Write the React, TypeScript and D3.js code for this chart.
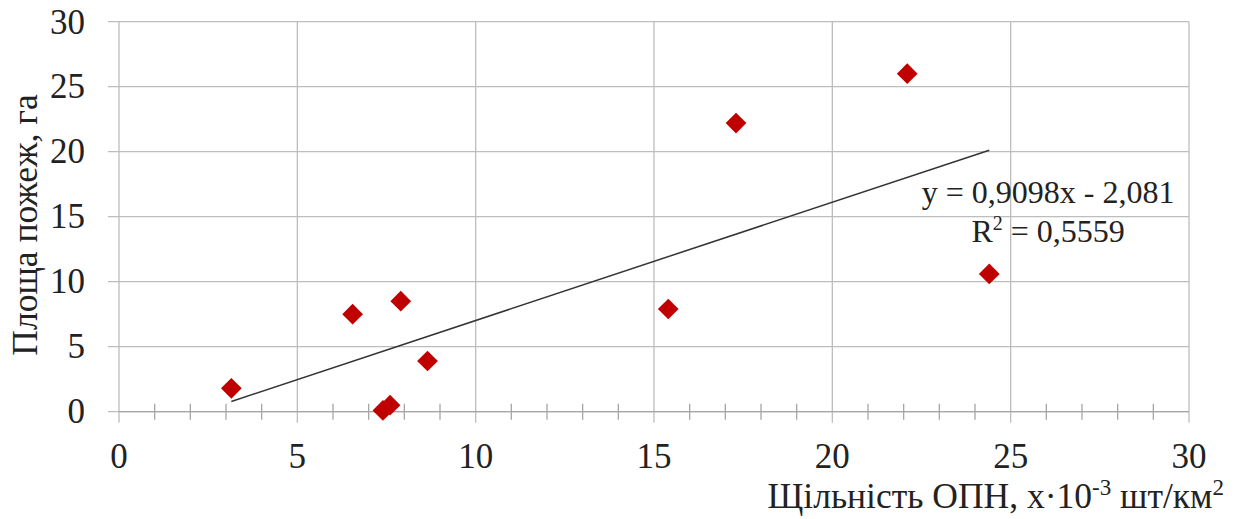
import React, { useEffect, useRef } from "react";
import * as d3 from "d3";

// density of objects (x 10^-3 pcs/km2) and fire area (ha)
const density = [3.15, 6.55, 7.9, 8.65, 7.4, 7.6, 15.4, 17.3, 22.1, 24.4];
const area = [1.8, 7.5, 8.5, 3.9, 0.1, 0.5, 7.9, 22.2, 26.0, 10.6];
const xTicks = [0, 5, 10, 15, 20, 25, 30];
const yTicks = [0, 5, 10, 15, 20, 25, 30];
const slope = 0.9098;
const intercept = -2.081;
const eqLabel = "y = 0,9098x - 2,081";
const r2Label = "= 0,5559";

const W = 1252;
const H = 519;

const App = () => {
  const ref = useRef<SVGSVGElement>(null);

  useEffect(() => {
    const svg = d3.select(ref.current);
    svg.selectAll("g").remove();
    svg.selectAll("text").remove();

    const margin = { top: 21.7, right: 63, bottom: 107.3, left: 119 };
    const width = W - margin.left - margin.right;
    const height = H - margin.top - margin.bottom;

    const x = d3.scaleLinear().domain([0, 30]).range([0, width]);
    const y = d3.scaleLinear().domain([0, 30]).range([height, 0]);

    const g = svg.append("g").attr("transform", `translate(${margin.left},${margin.top})`);

    // сітка
    g.selectAll(".hgrid")
      .data(yTicks)
      .enter()
      .append("line")
      .attr("x1", -11)
      .attr("x2", width)
      .attr("y1", (d) => y(d))
      .attr("y2", (d) => y(d))
      .attr("stroke", "#bdbdbd")
      .attr("stroke-width", 1.3);

    g.selectAll(".vgrid")
      .data(xTicks)
      .enter()
      .append("line")
      .attr("x1", (d) => x(d))
      .attr("x2", (d) => x(d))
      .attr("y1", 0)
      .attr("y2", height + 11)
      .attr("stroke", "#bdbdbd")
      .attr("stroke-width", 1.3);

    // вісь x та дрібні поділки
    g.append("line")
      .attr("x1", 0)
      .attr("x2", width)
      .attr("y1", height)
      .attr("y2", height)
      .attr("stroke", "#a6a6a6")
      .attr("stroke-width", 1.3);

    g.selectAll(".minor")
      .data(d3.range(1, 30).filter((d) => d % 5 !== 0))
      .enter()
      .append("line")
      .attr("x1", (d) => x(d))
      .attr("x2", (d) => x(d))
      .attr("y1", height - 8)
      .attr("y2", height + 8)
      .attr("stroke", "#a6a6a6")
      .attr("stroke-width", 1.3);

    g.selectAll(".xlab")
      .data(xTicks)
      .enter()
      .append("text")
      .attr("class", "t")
      .attr("x", (d) => x(d))
      .attr("y", height + 56)
      .attr("text-anchor", "middle")
      .attr("font-size", 35)
      .text((d) => d);

    g.selectAll(".ylab")
      .data(yTicks)
      .enter()
      .append("text")
      .attr("class", "t")
      .attr("x", -34)
      .attr("y", (d) => y(d) + 11.8)
      .attr("text-anchor", "end")
      .attr("font-size", 35)
      .text((d) => d);

    // лінія тренду
    const [x0, x1] = d3.extent(density) as [number, number];
    const line = d3
      .line<number>()
      .x((d) => x(d))
      .y((d) => y(slope * d + intercept));
    g.append("path")
      .attr("d", line([x0, x1]))
      .attr("fill", "none")
      .attr("stroke", "#333")
      .attr("stroke-width", 1.5);

    // точки
    const diamond = d3.symbol().type(d3.symbolSquare).size(215);
    g.selectAll(".pt")
      .data(density.map((d, i) => [d, area[i]]))
      .enter()
      .append("path")
      .attr("d", diamond)
      .attr("transform", (d) => `translate(${x(d[0])},${y(d[1])}) rotate(45)`)
      .attr("fill", "#c00000");

    // рівняння
    const eqX = x(26.05);
    g.append("text")
      .attr("class", "t")
      .attr("x", eqX)
      .attr("y", y(30) + 181)
      .attr("text-anchor", "middle")
      .attr("font-size", 32)
      .text(eqLabel);

    const r2 = g
      .append("text")
      .attr("class", "t")
      .attr("x", eqX)
      .attr("y", y(30) + 220)
      .attr("text-anchor", "middle")
      .attr("font-size", 32);
    r2.append("tspan").text("R");
    r2.append("tspan").attr("font-size", 20).attr("dy", -12).text("2");
    r2.append("tspan").attr("dy", 12).text(" " + r2Label);

    // назви осей
    svg
      .append("text")
      .attr("class", "t")
      .attr("transform", `translate(37,225) rotate(-90)`)
      .attr("text-anchor", "middle")
      .attr("font-size", 35.5)
      .text("Площа пожеж, га");

    const xt = svg
      .append("text")
      .attr("class", "t")
      .attr("x", 1224)
      .attr("y", 508)
      .attr("text-anchor", "end")
      .attr("font-size", 35.5);
    xt.append("tspan").text("Щільність ОПН, x·10");
    xt.append("tspan").attr("font-size", 23).attr("dy", -13).text("-3");
    xt.append("tspan").attr("dy", 13).text(" шт/км");
    xt.append("tspan").attr("font-size", 23).attr("dy", -13).text("2");
  }, []);

  return (
    <svg
      ref={ref}
      width={W}
      height={H}
      style={{ position: "absolute", left: 0, top: 0, background: "#fff" }}
    >
      <style>{`.t { font-family: "Liberation Serif", "Times New Roman", serif; fill: #222; }`}</style>
    </svg>
  );
};

export default App;
